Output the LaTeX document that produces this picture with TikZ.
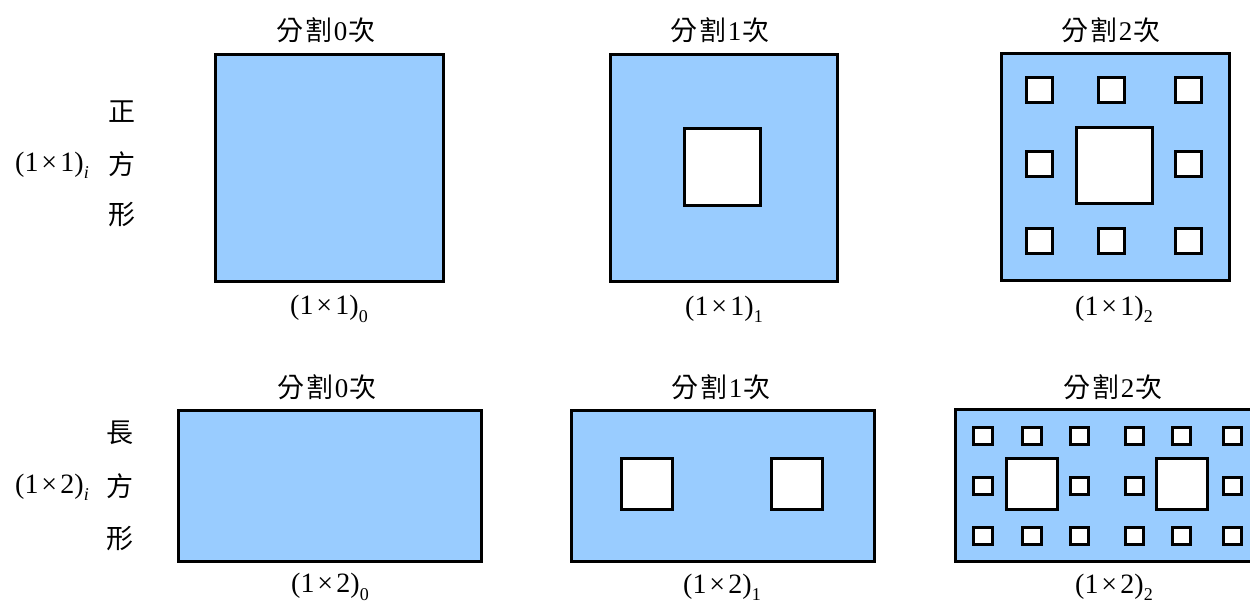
\documentclass[tikz,border=0pt]{standalone}
\usepackage{fontspec}
\setmainfont{Liberation Serif}
\newfontfamily\cjk{Noto Sans CJK TC}
\definecolor{carpet}{HTML}{99CCFF}
\newcommand\mylab[2]{(1\hspace{0.1em}×\hspace{0.12em}#1)\raisebox{-0.26em}{\fontsize{18}{18}\selectfont #2}}
\newcommand\mytitle[1]{{\cjk 分\hspace{0.08em}割}\hspace{0.04em}#1\hspace{0.04em}{\cjk 次}}
\tikzset{
  outer/.style={draw=black, line width=3pt, fill=carpet},
  hole/.style={draw=black, line width=3pt, fill=white},
  ttl/.style={font=\fontsize{27}{27}\selectfont, inner sep=0pt, anchor=center},
  lab/.style={font=\fontsize{28}{28}\selectfont, inner sep=0pt, anchor=center},
  vchar/.style={font=\fontsize{27}{27}\selectfont\cjk, inner sep=0pt, anchor=center}
}
\newcommand\myhole[4]{\draw[hole] (#1,#2) rectangle (#3,#4);}
\begin{document}
\begin{tikzpicture}[x=1pt,y=-1pt]
\useasboundingbox (0,0) rectangle (1250,605);
\clip (0,0) rectangle (1250,605);
% ---------- top row ----------
\node[vchar] (t1) at (122,112) {正};
\node[vchar] (t2) at (122,164) {方};
\node[vchar] (t3) at (122,215) {形};
\node[lab] (ti) at (52,165) {\mylab{1}{\textit{i}}};

\node[ttl] (h00) at (326,30) {\mytitle{0}};
\node[ttl] (h01) at (720,30) {\mytitle{1}};
\node[ttl] (h02) at (1111,30) {\mytitle{2}};

\draw[outer] (215,54) rectangle (443,281);

\draw[outer] (610,54) rectangle (837,281);
\myhole{684}{128}{760}{205}

\draw[outer] (1001,53) rectangle (1229,280);
\myhole{1076}{127}{1152}{203}
\foreach \xa/\xb in {1026/1052,1098/1124,1175/1201}{
  \myhole{\xa}{77}{\xb}{102}
  \myhole{\xa}{228}{\xb}{253}
}
\myhole{1026}{151}{1052}{176}
\myhole{1175}{151}{1201}{176}

\node[lab] (l00) at (329,309) {\mylab{1}{0}};
\node[lab] (l01) at (724,309) {\mylab{1}{1}};
\node[lab] (l02) at (1114,309) {\mylab{1}{2}};

% ---------- bottom row ----------
\node[vchar] (b1) at (120,433) {長};
\node[vchar] (b2) at (120,486) {方};
\node[vchar] (b3) at (120,539) {形};
\node[lab] (bi) at (52,487) {\mylab{2}{\textit{i}}};

\node[ttl] (h10) at (327,387) {\mytitle{0}};
\node[ttl] (h11) at (721,387) {\mytitle{1}};
\node[ttl] (h12) at (1113,387) {\mytitle{2}};

\draw[outer] (178,410) rectangle (481,561);

\draw[outer] (571,410) rectangle (874,561);
\myhole{621}{458}{672}{509}
\myhole{771}{458}{822}{509}

\draw[outer] (955,409) rectangle (1258,561);
\myhole{1006}{458}{1057}{509}
\myhole{1156}{458}{1207}{509}
\foreach \xa/\xb in {973/992,1022/1041,1070/1088,1125/1143,1172/1190,1223/1241}{
  \myhole{\xa}{427}{\xb}{444}
  \myhole{\xa}{527}{\xb}{544}
}
\foreach \xa/\xb in {973/992,1070/1088,1125/1143,1223/1241}{
  \myhole{\xa}{477}{\xb}{494}
}

\node[lab] (l10) at (330,587) {\mylab{2}{0}};
\node[lab] (l11) at (722,587) {\mylab{2}{1}};
\node[lab] (l12) at (1114,587) {\mylab{2}{2}};
\end{tikzpicture}
\end{document}
